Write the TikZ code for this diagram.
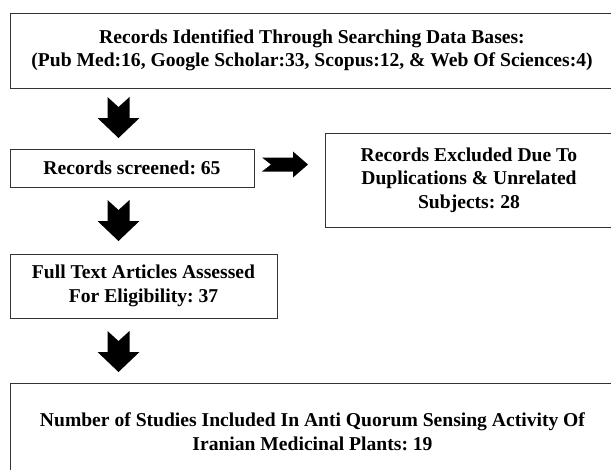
\documentclass[tikz,border=0pt]{standalone}
\usepackage{fontspec}
\setmainfont{Liberation Serif}
\frenchspacing
\begin{document}
\begin{tikzpicture}[x=1pt,y=-1pt,
  box/.style={draw=black!80, line width=1pt, rectangle, inner sep=0pt, align=center,
    font=\fontsize{19.6}{23.5}\selectfont\bfseries\frenchspacing},
  downarrow/.pic={\fill[black] (-11,0) -- (0,10) -- (11,0) -- (11,21) -- (21,21) -- (0,41) -- (-21,21) -- (-11,21) -- cycle;},
  rightarrow/.pic={\fill[black] (0,-7) -- (9,0) -- (0,7) -- (31,7) -- (31,13) -- (46,0) -- (31,-13) -- (31,-7) -- cycle;}
]
\useasboundingbox[fill=white] (0,0) rectangle (611,469);
\node[box, minimum width=604pt, minimum height=75pt] (top) at (312,50.5)
  {Records Identified Through Searching Data Bases:\\(Pub Med:16, Google Scholar:33, Scopus:12, \& Web Of Sciences:4)};
\node[box, minimum width=244pt, minimum height=38pt] (screen) at (132,168) {Records screened: 65};
\node[box, minimum width=288pt, minimum height=94pt] (excl) at (469,180)
  {Records Excluded Due To\\Duplications \& Unrelated\\Subjects: 28};
\node[box, minimum width=267pt, minimum height=64pt] (full) at (143.5,286)
  {Full Text Articles Assessed\\For Eligibility: 37};
\node[box, minimum width=605pt, minimum height=97pt] (final) at (312.5,431.5)
  {Number of Studies Included In Anti Quorum Sensing Activity Of\\Iranian Medicinal Plants: 19};
\coordinate (a1) at (118.5,97);
\coordinate (a2) at (118.5,200);
\coordinate (a3) at (118.5,331);
\coordinate (a4) at (262,164.5);
\pic at (a1) {downarrow};
\pic at (a2) {downarrow};
\pic at (a3) {downarrow};
\pic at (a4) {rightarrow};
\end{tikzpicture}
\end{document}
